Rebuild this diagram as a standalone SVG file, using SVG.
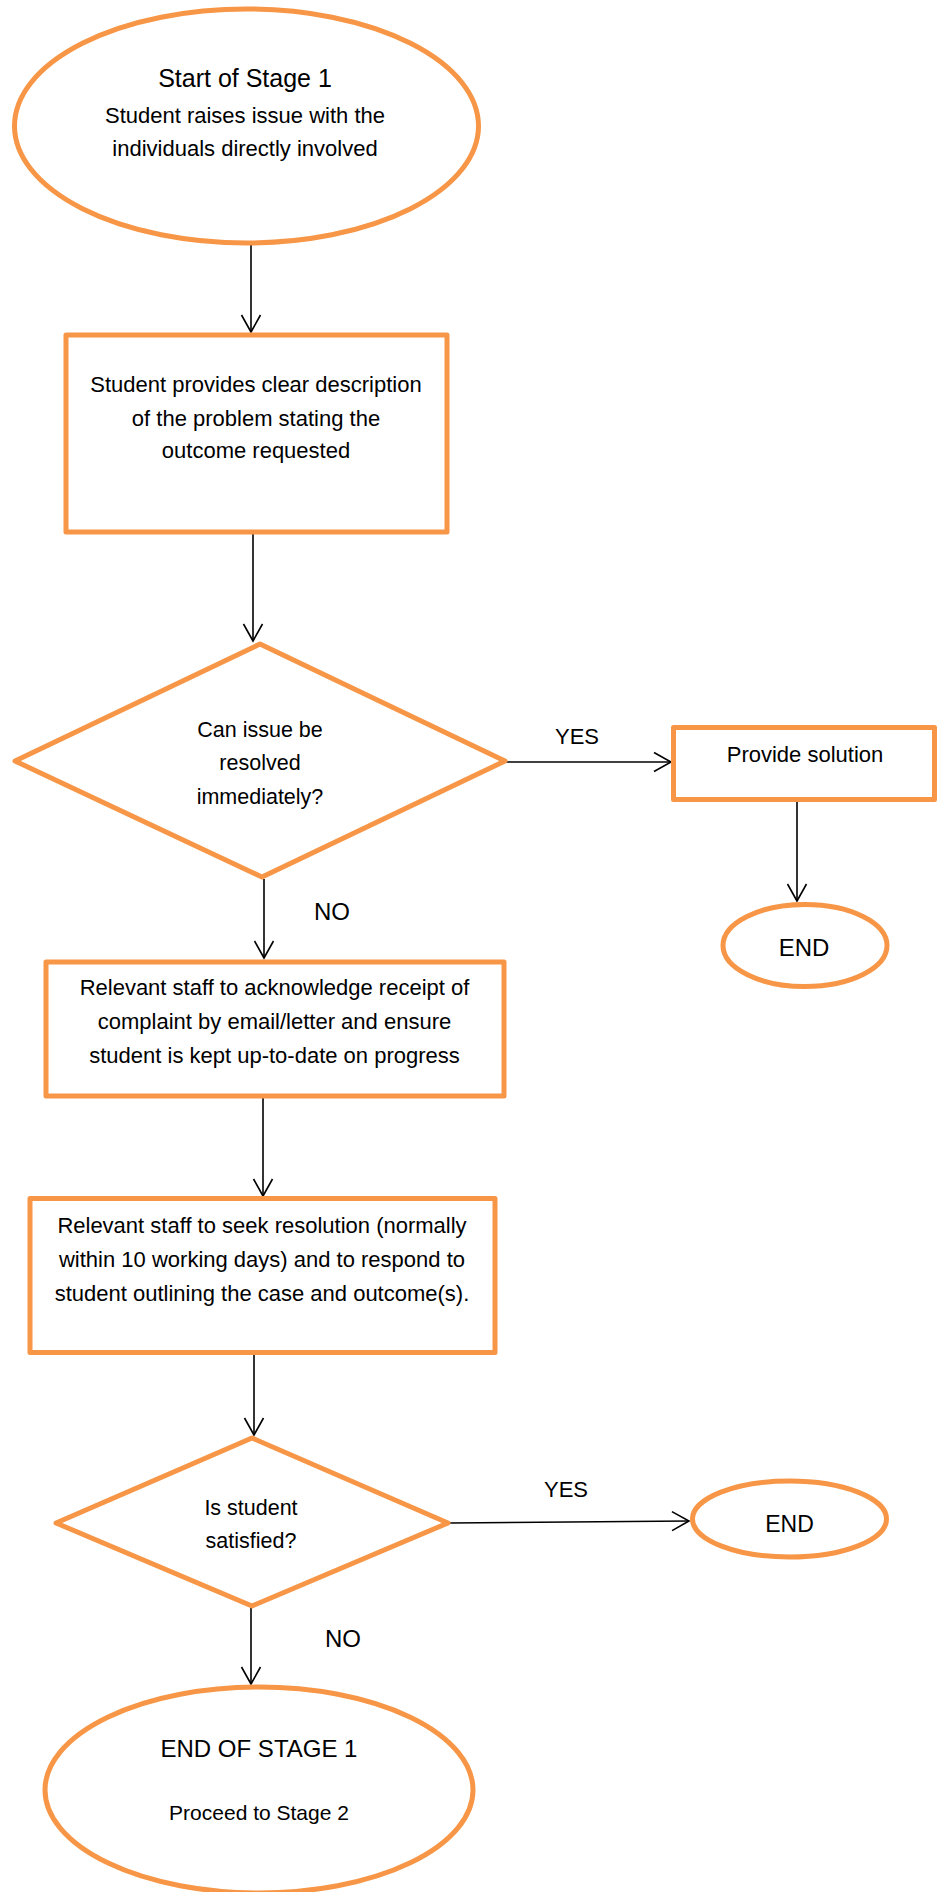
<svg xmlns="http://www.w3.org/2000/svg" width="943" height="1892" viewBox="0 0 943 1892">
<style>
.shape{fill:#FFFFFF;stroke:#F79646;stroke-width:5;stroke-linejoin:round}
.edge{fill:none;stroke:#000000;stroke-width:1.6}
text{font-family:"Liberation Sans",Arial,sans-serif;fill:#000000;text-anchor:middle}
.b{font-size:22px}
.lbl{text-anchor:start}
</style>
<defs>
<marker id="arr" viewBox="-19 -12 21 24" markerWidth="21" markerHeight="24" refX="0" refY="0" orient="auto" markerUnits="userSpaceOnUse">
<path d="M -17 -9.5 L 0 0 L -17 9.5" fill="none" stroke="#000000" stroke-width="1.6"/>
</marker>
</defs>
<rect width="943" height="1892" fill="#FFFFFF"/>
<g id="connectors">
<line class="edge" x1="251" y1="245" x2="251" y2="332" marker-end="url(#arr)"/>
<line class="edge" x1="253" y1="534" x2="253" y2="641" marker-end="url(#arr)"/>
<line class="edge" x1="506" y1="762" x2="671" y2="762" marker-end="url(#arr)"/>
<line class="edge" x1="797" y1="802" x2="797" y2="901" marker-end="url(#arr)"/>
<line class="edge" x1="264" y1="879" x2="264" y2="958" marker-end="url(#arr)"/>
<line class="edge" x1="263" y1="1098" x2="263" y2="1196" marker-end="url(#arr)"/>
<line class="edge" x1="254" y1="1355" x2="254" y2="1435" marker-end="url(#arr)"/>
<line class="edge" x1="450" y1="1523" x2="689" y2="1521" marker-end="url(#arr)"/>
<line class="edge" x1="251" y1="1608" x2="251" y2="1684" marker-end="url(#arr)"/>
<text class="lbl" x="555" y="744" font-size="22">YES</text>
<text class="lbl" x="314" y="920" font-size="24">NO</text>
<text class="lbl" x="544" y="1497" font-size="22">YES</text>
<text class="lbl" x="325" y="1647" font-size="24">NO</text>
</g>
<g id="start">
<ellipse class="shape" cx="246.5" cy="126" rx="232" ry="117"/>
<text x="245" y="87" font-size="25">Start of Stage 1</text>
<text class="b" x="245" y="123">Student raises issue with the</text>
<text class="b" x="245" y="156">individuals directly involved</text>
</g>
<g id="describe">
<rect class="shape" x="66" y="335" width="381" height="197"/>
<text class="b" x="256" y="392">Student provides clear description</text>
<text class="b" x="256" y="426">of the problem stating the</text>
<text class="b" x="256" y="458">outcome requested</text>
</g>
<g id="decision1">
<polygon class="shape" points="260,644 505,761 262,877 15,761"/>
<text x="260" y="737" font-size="21.5">Can issue be</text>
<text x="260" y="770" font-size="21.5">resolved</text>
<text x="260" y="804" font-size="21.5">immediately?</text>
</g>
<g id="solution">
<rect class="shape" x="673.5" y="727.5" width="261" height="72"/>
<text class="b" x="805" y="762">Provide solution</text>
</g>
<g id="end1">
<ellipse class="shape" cx="805" cy="945.5" rx="82" ry="41"/>
<text x="804" y="956" font-size="24">END</text>
</g>
<g id="acknowledge">
<rect class="shape" x="46" y="962" width="458" height="134"/>
<text class="b" x="274.5" y="995">Relevant staff to acknowledge receipt of</text>
<text class="b" x="274.5" y="1029">complaint by email/letter and ensure</text>
<text class="b" x="274.5" y="1063">student is kept up-to-date on progress</text>
</g>
<g id="resolution">
<rect class="shape" x="30" y="1198.5" width="465" height="154"/>
<text class="b" x="262" y="1233">Relevant staff to seek resolution (normally</text>
<text class="b" x="262" y="1267">within 10 working days) and to respond to</text>
<text class="b" x="262" y="1301">student outlining the case and outcome(s).</text>
</g>
<g id="decision2">
<polygon class="shape" points="252,1438 448,1523 252,1606 56,1523"/>
<text x="251" y="1515" font-size="21.5">Is student</text>
<text x="251" y="1548" font-size="21.5">satisfied?</text>
</g>
<g id="end2">
<ellipse class="shape" cx="789.5" cy="1519" rx="97" ry="38"/>
<text x="789.5" y="1532" font-size="23">END</text>
</g>
<g id="endstage">
<ellipse class="shape" cx="259" cy="1790" rx="214" ry="103"/>
<text x="259" y="1757" font-size="24">END OF STAGE 1</text>
<text x="259" y="1820" font-size="21">Proceed to Stage 2</text>
</g>
</svg>
